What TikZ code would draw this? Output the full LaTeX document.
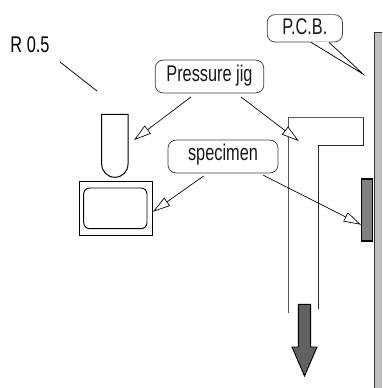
\documentclass[tikz,border=0pt]{standalone}
\usepackage{fontspec}
\setmainfont[FakeStretch=0.72]{Liberation Sans}
\usetikzlibrary{arrows.meta,calc}
\tikzset{
  callout/.style={draw=black!75,line width=0.55pt,fill=white,rounded corners=6pt,inner sep=0pt,font=\fontsize{17pt}{19pt}\selectfont,text=black!90},
  pointer/.style={draw=black,line width=0.5pt,-{Triangle[open,fill=white,length=13pt,width=7.5pt,line width=0.5pt]},shorten >=0pt},
  thin line/.style={draw=black,line width=0.55pt},
  jig/.style={draw=black!65,line width=0.8pt},
}
\begin{document}
\begin{tikzpicture}[x=0.75pt,y=-0.75pt]
\useasboundingbox (0,0) rectangle (382,388);
% P.C.B. plate
\path[fill=black!25] (374,32) rectangle (382,388);
\draw[black!80,line width=0.6pt] (382,32) -- (374,32) -- (374,388);
% specimen on the board
\node[draw=black,line width=1pt,fill=black!50,minimum width=8.4pt,minimum height=46.5pt,inner sep=0pt] (block) at (366.8,210) {};
% jig
\draw[jig] (288.7,313) -- (288.7,117.7) -- (363.7,117.7);
\draw[black!85,line width=0.7pt] (363.7,117.7) -- (363.7,145.3) -- (318,145.3) -- (318,309);
% big arrow
\node[inner sep=0pt,minimum size=0pt] (pull) at (304.5,340) {};
\draw[black,line width=0.7pt,fill=black!62] (298.3,304.3) -- (310.7,304.3) -- (310.7,347) -- (317,347) -- (304.5,376) -- (292,347) -- (298.3,347) -- cycle;
% probe
\node[inner sep=0pt,minimum size=0pt] (probe) at (115,145) {};
\draw[black,line width=0.75pt] (128,114.3) -- (101.7,114.3) -- (101.7,164) .. controls (101.7,171.5) and (107.5,177.3) .. (114.85,177.3) .. controls (122.2,177.3) and (128,171.5) .. (128,164) -- cycle;
% fixture
\node[draw=black,line width=0.75pt,minimum width=54.75pt,minimum height=40.5pt,inner sep=0pt] (fixture) at (115.5,208.7) {};
\draw[black,line width=0.7pt,rounded corners=4.5pt] (83.7,188) rectangle (147,228.7);
% callouts
\node[callout,minimum width=81.5pt,minimum height=24.6pt,text height=11pt,text depth=3.2pt] (pj) at (209.5,76.5) {Pressure jig};
\node[callout,minimum width=82.5pt,minimum height=24.6pt,text height=10pt,text depth=3.7pt] (sp) at (223,156.5) {specimen};
\node[callout,minimum width=56.5pt,minimum height=20.5pt,text height=10pt,text depth=0pt] (pcb) at (304.8,28.3) {P.C.B.};
\coordinate (pcbtip) at (363,74);
\fill[white] ([shift={(6.2,-0.8)}]pcb.south) -- (pcbtip) -- ([shift={(24.2,-0.8)}]pcb.south) -- cycle;
\draw[thin line] ([shift={(6.2,0)}]pcb.south) -- (pcbtip) -- ([shift={(24.2,0)}]pcb.south);
% R 0.5
\node[inner sep=0pt,font=\fontsize{17pt}{19pt}\selectfont,text height=11.2pt,text depth=0pt] (r) at (30,45.5) {R 0.5};
\coordinate (rend) at (97,91);
\draw[thin line] ([shift={(30,16.5)}]r.center) -- (rend);
% arrows
\coordinate (a1) at (134,140);
\coordinate (a2) at (298.7,141);
\coordinate (a3) at (153,211.7);
\coordinate (a4) at (361,224.7);
\draw[pointer] ([shift={(-18.5,3.7)}]pj.south) -- (a1);
\draw[pointer] ([shift={(31.5,3.7)}]pj.south) -- (a2);
\draw[pointer] ([shift={(-19.3,2.7)}]sp.south) -- (a3);
\draw[pointer] ([shift={(40.3,2)}]sp.south) -- (a4);
\end{tikzpicture}
\end{document}
